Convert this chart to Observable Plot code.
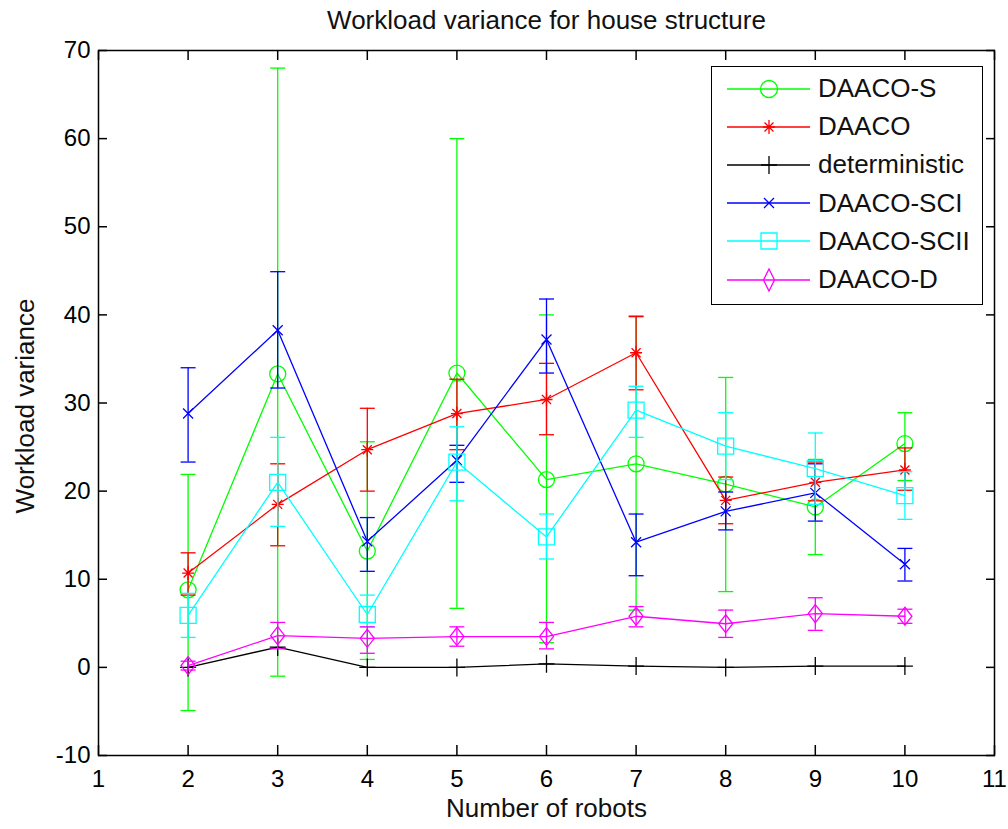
<!DOCTYPE html>
<html>
<head>
<meta charset="utf-8">
<script src="https://cdn.jsdelivr.net/npm/d3@7"></script>
<script src="https://cdn.jsdelivr.net/npm/@observablehq/plot@0.6"></script>
<style>
  body { margin: 0; background: #fff; font-family: "Liberation Sans", Arial, sans-serif; }
  #wrap { position: relative; width: 1008px; height: 829px; }
  #legend { position: absolute; left: 711px; top: 66px; width: 272px; height: 239px;
            box-sizing: border-box; border: 1.5px solid #000; background: #fff; }
  .row { position: absolute; left: 0; height: 38px; display: flex; align-items: center; }
  .row svg { display: block; }
  .row span { font-size: 26px; color: #111; white-space: nowrap; }
</style>
</head>
<body>
<div id="wrap"></div>
<script>
// Number of robots on the x axis
const robots = [2, 3, 4, 5, 6, 7, 8, 9, 10];
const xTicks = [1, 2, 3, 4, 5, 6, 7, 8, 9, 10, 11];
const yTicks = [-10, 0, 10, 20, 30, 40, 50, 60, 70];

const seriesNames = ["DAACO-S", "DAACO", "deterministic", "DAACO-SCI", "DAACO-SCII", "DAACO-D"];
const seriesColors = ["#00ff00", "#ff0000", "#000000", "#0000ff", "#00ffff", "#ff00ff"];

// Mean workload variance and error bar ends for each algorithm
const daacoSMean = [8.8, 33.3, 13.2, 33.4, 21.3, 23.1, 20.8, 18.2, 25.4];
const daacoSLow  = [-4.9, -1.0, 0.9, 6.7, 2.8, 6.5, 8.6, 12.8, 21.2];
const daacoSHigh = [21.9, 68.0, 25.6, 60.0, 40.0, 39.9, 32.9, 23.6, 28.9];

const daacoMean = [10.7, 18.5, 24.7, 28.8, 30.4, 35.7, 18.95, 21.0, 22.4];
const daacoLow  = [8.2, 13.8, 20.0, 24.7, 26.4, 31.5, 16.3, 18.9, 20.1];
const daacoHigh = [13.0, 23.1, 29.4, 32.7, 34.5, 39.8, 21.6, 23.3, 24.9];

const deterministicMean = [0.0, 2.3, 0.0, 0.0, 0.4, 0.15, 0.0, 0.15, 0.15];

const sciMean = [28.8, 38.25, 14.3, 23.5, 37.2, 14.2, 17.7, 19.8, 11.7];
const sciLow  = [23.3, 31.7, 10.9, 21.0, 33.4, 10.4, 15.6, 16.6, 9.8];
const sciHigh = [34.0, 44.9, 17.0, 25.2, 41.8, 17.4, 19.9, 23.1, 13.5];

const sciiMean = [5.9, 21.0, 6.0, 23.3, 14.8, 29.2, 25.1, 22.55, 19.5];
const sciiLow  = [3.4, 16.0, 4.6, 18.9, 12.3, 26.1, 21.3, 18.5, 16.8];
const sciiHigh = [8.4, 26.1, 8.2, 27.3, 17.4, 31.9, 28.9, 26.6, 22.2];

const dMean = [0.2, 3.6, 3.3, 3.5, 3.5, 5.8, 4.95, 6.1, 5.8];
const dLow  = [-0.3, 2.1, 1.6, 2.4, 2.1, 4.6, 3.4, 4.2, 5.0];
const dHigh = [0.7, 5.1, 4.6, 4.6, 5.1, 6.9, 6.5, 7.9, 6.6];

// Marker shapes (fixed pixel size, stroked)
const markers = {
  circle: {draw(c) { c.moveTo(8, 0); c.arc(0, 0, 8, 0, 2 * Math.PI); }},
  asterisk: {draw(c) {
    c.moveTo(0, -7); c.lineTo(0, 7);
    c.moveTo(-6, 0); c.lineTo(6, 0);
    c.moveTo(-4.5, -4.5); c.lineTo(4.5, 4.5);
    c.moveTo(-4.5, 4.5); c.lineTo(4.5, -4.5);
  }},
  plus: {draw(c) { c.moveTo(0, -9); c.lineTo(0, 9); c.moveTo(-8, 0); c.lineTo(8, 0); }},
  times: {draw(c) { c.moveTo(-5, -5); c.lineTo(5, 5); c.moveTo(-5, 5); c.lineTo(5, -5); }},
  square: {draw(c) { c.rect(-8, -8, 16, 16); }},
  diamond: {draw(c) { c.moveTo(0, -9); c.lineTo(7, 0); c.lineTo(0, 9); c.lineTo(-7, 0); c.closePath(); }}
};
const legendMarkers = {...markers,
  circle: {draw(c) { c.moveTo(8.5, 0); c.arc(0, 0, 8.5, 0, 2 * Math.PI); }},
  diamond: {draw(c) { c.moveTo(0, -11); c.lineTo(5.5, 0); c.lineTo(0, 11); c.lineTo(-5.5, 0); c.closePath(); }}
};
const cap = {draw(c) { c.moveTo(-7.5, 0); c.lineTo(7.5, 0); }};

const seriesMarkers = ["circle", "asterisk", "plus", "times", "square", "diamond"];
const seriesMeans = [daacoSMean, daacoMean, deterministicMean, sciMean, sciiMean, dMean];
const seriesLows  = [daacoSLow, daacoLow, null, sciLow, sciiLow, dLow];
const seriesHighs = [daacoSHigh, daacoHigh, null, sciHigh, sciiHigh, dHigh];

const lw = 1.3;
const marks = [];
seriesNames.forEach((name, i) => {
  const rows = robots.map((x, j) => ({
    x, mean: seriesMeans[i][j],
    lo: seriesLows[i] ? seriesLows[i][j] : null,
    hi: seriesHighs[i] ? seriesHighs[i][j] : null
  }));
  const color = seriesColors[i];
  if (seriesLows[i]) {
    marks.push(Plot.ruleX(rows, {x: "x", y1: "lo", y2: "hi", stroke: color, strokeWidth: lw}));
    marks.push(Plot.dot(rows, {x: "x", y: "lo", symbol: cap, stroke: color, strokeWidth: lw}));
    marks.push(Plot.dot(rows, {x: "x", y: "hi", symbol: cap, stroke: color, strokeWidth: lw}));
  }
  marks.push(Plot.line(rows, {x: "x", y: "mean", stroke: color, strokeWidth: lw}));
  marks.push(Plot.dot(rows, {x: "x", y: "mean", symbol: markers[seriesMarkers[i]], stroke: color, fill: "none", strokeWidth: lw}));
});

const fmt = d => String(d);
const chart = Plot.plot({
  width: 1008,
  height: 829,
  marginLeft: 98,
  marginRight: 14,
  marginTop: 50,
  marginBottom: 74,
  style: {fontFamily: '"Liberation Sans", Arial, sans-serif', color: "#000", background: "#fff"},
  x: {domain: [1, 11]},
  y: {domain: [-10, 70]},
  marks: [
    ...marks,
    Plot.frame({stroke: "#000", strokeWidth: 1.5}),
    Plot.axisX(xTicks, {anchor: "bottom", tickSize: -10, tickPadding: 24, fontSize: 24, tickFormat: fmt, strokeWidth: 1.5, label: null}),
    Plot.axisX(xTicks, {anchor: "top", tickSize: -9, tickFormat: () => "", strokeWidth: 1.5, label: null}),
    Plot.axisY(yTicks, {anchor: "left", tickSize: -9, tickPadding: 17, fontSize: 24, tickFormat: fmt, strokeWidth: 1.5, label: null}),
    Plot.axisY(yTicks, {anchor: "right", tickSize: -9, tickFormat: () => "", strokeWidth: 1.5, label: null}),
    Plot.text(["Workload variance for house structure"], {frameAnchor: "top", lineAnchor: "bottom", dy: -22, fontSize: 26, fill: "#111"}),
    Plot.text(["Number of robots"], {frameAnchor: "bottom", lineAnchor: "bottom", dy: 61, fontSize: 26, fill: "#111"}),
    Plot.text(["Workload variance"], {frameAnchor: "left", textAnchor: "middle", lineAnchor: "bottom", rotate: -90, dx: -65, dy: 3, fontSize: 26, fill: "#111"})
  ]
});

const wrap = document.getElementById("wrap");
wrap.appendChild(chart);

// Legend box inside the plot area
const legend = document.createElement("div");
legend.id = "legend";
seriesNames.forEach((name, i) => {
  const row = document.createElement("div");
  row.className = "row";
  row.style.top = (23 + i * 38.2 - 19 - 1.5) + "px";
  const svg = d3.create("svg").attr("width", 106).attr("height", 38);
  svg.append("line").attr("x1", 15).attr("x2", 98).attr("y1", 19).attr("y2", 19)
    .attr("stroke", seriesColors[i]).attr("stroke-width", lw);
  const p = d3.path();
  legendMarkers[seriesMarkers[i]].draw(p);
  svg.append("path").attr("d", p.toString()).attr("transform", "translate(57,19)")
    .attr("fill", "none").attr("stroke", seriesColors[i]).attr("stroke-width", lw);
  row.appendChild(svg.node());
  const span = document.createElement("span");
  span.textContent = name;
  row.appendChild(span);
  legend.appendChild(row);
});
wrap.appendChild(legend);
</script>
</body>
</html>
